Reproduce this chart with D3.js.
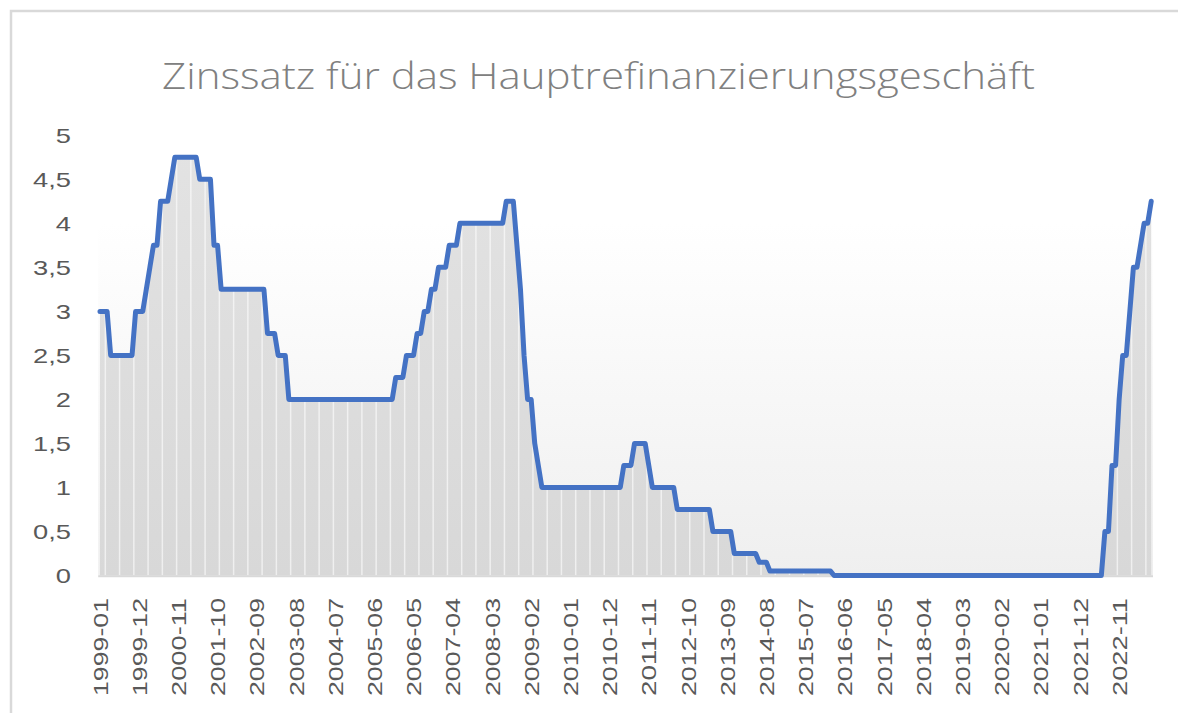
<!DOCTYPE html>
<html>
<head>
<meta charset="utf-8">
<script src="https://cdn.jsdelivr.net/npm/d3@7"></script>
<style>
    body { margin: 0; background: #ffffff; }
    .labels { font-family: "Liberation Sans", Arial, sans-serif; fill: #595959; }
    .title { font-family: "Open Sans", sans-serif; font-weight: 300; fill: #808080; }
</style>
</head>
<body>
<div id="vis"></div>
<script>
// Leitzins (Hauptrefinanzierungsgeschäft), Monatswerte 1999-01 bis 2023-08
const START_MONTH = "1999-01";
const rates1999_2003 = [
    3, 3, 3, 2.5, 2.5, 2.5, 2.5, 2.5, 2.5, 2.5, 3, 3,                      // 1999
    3, 3.25, 3.5, 3.75, 3.75, 4.25, 4.25, 4.25, 4.5, 4.75, 4.75, 4.75,     // 2000
    4.75, 4.75, 4.75, 4.75, 4.5, 4.5, 4.5, 4.5, 3.75, 3.75, 3.25, 3.25,    // 2001
    3.25, 3.25, 3.25, 3.25, 3.25, 3.25, 3.25, 3.25, 3.25, 3.25, 3.25, 2.75, // 2002
    2.75, 2.75, 2.5, 2.5, 2.5, 2, 2, 2, 2, 2, 2, 2                         // 2003
];
const rates2004_2008 = [
    2, 2, 2, 2, 2, 2, 2, 2, 2, 2, 2, 2,                                    // 2004
    2, 2, 2, 2, 2, 2, 2, 2, 2, 2, 2, 2.25,                                 // 2005
    2.25, 2.25, 2.5, 2.5, 2.5, 2.75, 2.75, 3, 3, 3.25, 3.25, 3.5,          // 2006
    3.5, 3.5, 3.75, 3.75, 3.75, 4, 4, 4, 4, 4, 4, 4,                       // 2007
    4, 4, 4, 4, 4, 4, 4.25, 4.25, 4.25, 3.75, 3.25, 2.5                    // 2008
];
const rates2009_2015 = [
    2, 2, 1.5, 1.25, 1, 1, 1, 1, 1, 1, 1, 1,                               // 2009
    1, 1, 1, 1, 1, 1, 1, 1, 1, 1, 1, 1,                                    // 2010
    1, 1, 1, 1.25, 1.25, 1.25, 1.5, 1.5, 1.5, 1.5, 1.25, 1,                // 2011
    1, 1, 1, 1, 1, 1, 0.75, 0.75, 0.75, 0.75, 0.75, 0.75,                  // 2012
    0.75, 0.75, 0.75, 0.75, 0.5, 0.5, 0.5, 0.5, 0.5, 0.5, 0.25, 0.25,      // 2013
    0.25, 0.25, 0.25, 0.25, 0.25, 0.15, 0.15, 0.15, 0.05, 0.05, 0.05, 0.05, // 2014
    0.05, 0.05, 0.05, 0.05, 0.05, 0.05, 0.05, 0.05, 0.05, 0.05, 0.05, 0.05  // 2015
];
const rates2016_2023 = [
    0.05, 0.05, 0, 0, 0, 0, 0, 0, 0, 0, 0, 0,                              // 2016
    0, 0, 0, 0, 0, 0, 0, 0, 0, 0, 0, 0,                                    // 2017
    0, 0, 0, 0, 0, 0, 0, 0, 0, 0, 0, 0,                                    // 2018
    0, 0, 0, 0, 0, 0, 0, 0, 0, 0, 0, 0,                                    // 2019
    0, 0, 0, 0, 0, 0, 0, 0, 0, 0, 0, 0,                                    // 2020
    0, 0, 0, 0, 0, 0, 0, 0, 0, 0, 0, 0,                                    // 2021
    0, 0, 0, 0, 0, 0, 0.5, 0.5, 1.25, 1.25, 2, 2.5,                        // 2022
    2.5, 3, 3.5, 3.5, 3.75, 4, 4, 4.25                                     // 2023
];
const yTicks = [0, 0.5, 1, 1.5, 2, 2.5, 3, 3.5, 4, 4.5, 5];
const xTickLabels = [
    "1999-01", "1999-12", "2000-11", "2001-10", "2002-09", "2003-08", "2004-07",
    "2005-06", "2006-05", "2007-04", "2008-03", "2009-02", "2010-01", "2010-12",
    "2011-11", "2012-10", "2013-09", "2014-08", "2015-07", "2016-06", "2017-05",
    "2018-04", "2019-03", "2020-02", "2021-01", "2021-12", "2022-11"
];
const TITLE = "Zinssatz für das Hauptrefinanzierungsgeschäft";

function init() {
    const rates = [].concat(rates1999_2003, rates2004_2008, rates2009_2015, rates2016_2023);
    const fmt = d3.timeFormat("%Y-%m");
    const start = d3.timeParse("%Y-%m")(START_MONTH);
    const data = rates.map((r, i) => ({ month: fmt(d3.timeMonth.offset(start, i)), value: r }));
    drawChart(data);
}

function drawChart(data) {
    const width = 1178, height = 713;
    const plot = { left: 98.2, right: 1153, top: 135.3, bottom: 575.5 };

    const svg = d3.select('#vis')
        .append('svg')
        .attr('width', width)
        .attr('height', height);

    // chart frame
    svg.append('rect')
        .attr('x', 11).attr('y', 11)
        .attr('width', 1400).attr('height', 900)
        .attr('fill', '#ffffff')
        .attr('stroke', '#d9d9d9')
        .attr('stroke-width', 2.5);

    const xScale = d3.scaleBand()
        .domain(data.map(d => d.month))
        .range([plot.left, plot.right])
        .padding(0);
    const xc = m => xScale(m) + xScale.bandwidth() / 2;

    const yScale = d3.scaleLinear()
        .domain([0, 5])
        .range([plot.bottom, plot.top]);

    const defs = svg.append('defs');
    const bg = defs.append('linearGradient')
        .attr('id', 'bgGrad')
        .attr('gradientUnits', 'userSpaceOnUse')
        .attr('x1', 0).attr('x2', 0)
        .attr('y1', plot.top).attr('y2', plot.bottom);
    bg.append('stop').attr('offset', '0').attr('stop-color', '#ffffff');
    bg.append('stop').attr('offset', '0.2').attr('stop-color', '#ffffff');
    bg.append('stop').attr('offset', '1').attr('stop-color', '#efefef');

    const fillGrad = defs.append('linearGradient')
        .attr('id', 'areaGrad')
        .attr('gradientUnits', 'userSpaceOnUse')
        .attr('x1', 0).attr('x2', 0)
        .attr('y1', plot.top).attr('y2', plot.bottom);
    fillGrad.append('stop').attr('offset', '0').attr('stop-color', '#e3e3e3');
    fillGrad.append('stop').attr('offset', '1').attr('stop-color', '#d8d8d8');

    // plot area background
    svg.append('rect')
        .attr('x', plot.left).attr('y', plot.top)
        .attr('width', plot.right - plot.left)
        .attr('height', plot.bottom - plot.top)
        .attr('fill', 'url(#bgGrad)');

    const area = d3.area()
        .x(d => xc(d.month))
        .y0(yScale(0))
        .y1(d => yScale(d.value));

    defs.append('clipPath')
        .attr('id', 'areaClip')
        .append('path')
        .attr('d', area(data));

    svg.append('path')
        .datum(data)
        .attr('d', area)
        .attr('fill', 'url(#areaGrad)');

    // light vertical stripes inside the filled area
    const stripeMonths = data.filter((d, i) => i % 4 === 2).map(d => d.month);
    svg.append('g')
        .attr('clip-path', 'url(#areaClip)')
        .selectAll('line')
        .data(stripeMonths)
        .join('line')
        .attr('x1', d => xScale(d)).attr('x2', d => xScale(d))
        .attr('y1', plot.top).attr('y2', plot.bottom)
        .attr('stroke', '#ffffff')
        .attr('stroke-opacity', 0.6)
        .attr('stroke-width', 1.5);

    // category axis line
    svg.append('line')
        .attr('x1', plot.left).attr('x2', plot.right)
        .attr('y1', plot.bottom + 0.8).attr('y2', plot.bottom + 0.8)
        .attr('stroke', '#d9d9d9')
        .attr('stroke-width', 2);

    const line = d3.line()
        .x(d => xc(d.month))
        .y(d => yScale(d.value));

    svg.append('path')
        .datum(data)
        .attr('d', line)
        .attr('fill', 'none')
        .attr('stroke', '#4472c4')
        .attr('stroke-width', 5)
        .attr('stroke-linejoin', 'round')
        .attr('stroke-linecap', 'round');

    // y labels
    const yl = svg.selectAll('.ylab')
        .data(yTicks)
        .join('text')
        .attr('class', 'labels ylab')
        .attr('x', 71)
        .attr('y', d => yScale(d))
        .attr('dy', '0.36em')
        .attr('text-anchor', 'end')
        .style('font-size', '21px')
        .text(d => String(d).replace('.', ','));
    yl.each(function() {
        const w = this.getComputedTextLength();
        d3.select(this).attr('textLength', w * 1.3).attr('lengthAdjust', 'spacingAndGlyphs');
    });

    // x labels (rotated)
    svg.selectAll('.xlab')
        .data(xTickLabels)
        .join('text')
        .attr('class', 'labels xlab')
        .attr('transform', d => `translate(${xc(d)},598) rotate(-90)`)
        .attr('dy', '0.36em')
        .attr('text-anchor', 'end')
        .style('font-size', '21px')
        .attr('textLength', 98)
        .attr('lengthAdjust', 'spacingAndGlyphs')
        .text(d => d);

    // title
    svg.append('text')
        .attr('class', 'title')
        .attr('x', 598.5)
        .attr('y', 89)
        .attr('text-anchor', 'middle')
        .style('font-size', '36px')
        .attr('textLength', 873)
        .attr('lengthAdjust', 'spacingAndGlyphs')
        .text(TITLE);
}

window.addEventListener('load', init);
</script>
</body>
</html>
